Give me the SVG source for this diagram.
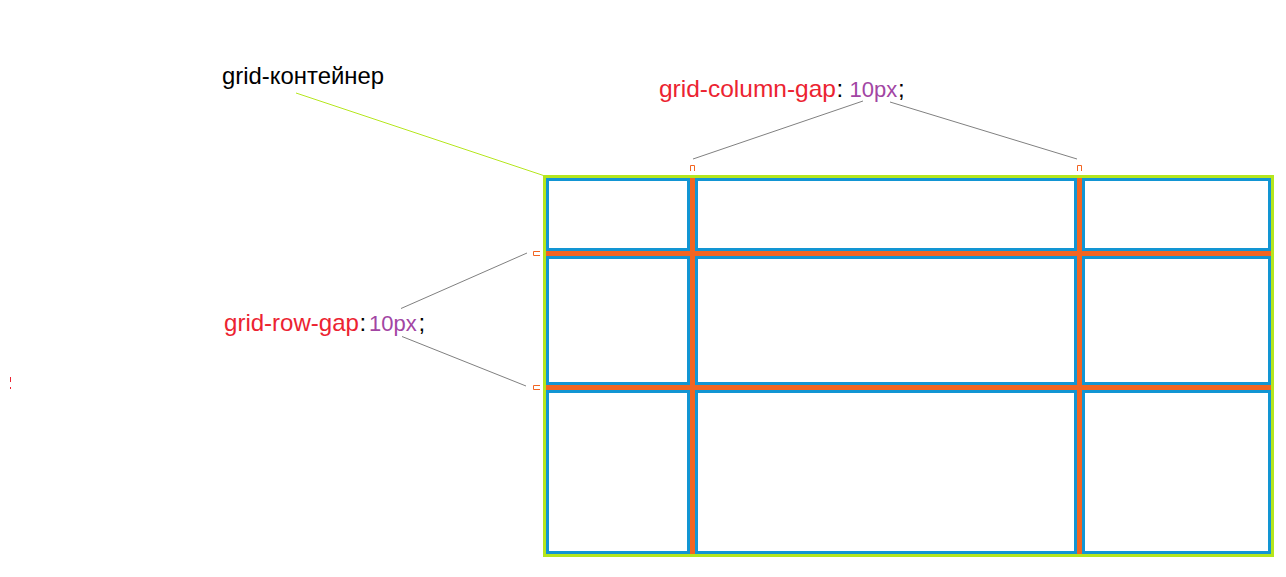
<svg xmlns="http://www.w3.org/2000/svg" width="1286" height="577" viewBox="0 0 1286 577">
<style>
.t{font-family:"Liberation Sans",Arial,sans-serif;font-size:24px}
.red{fill:#ec2331}
.pur{fill:#a245a3;font-size:22px}
.blk{fill:#000}
.cell{fill:#fff;stroke:#1295d3;stroke-width:3}
.lead{stroke:#808080;stroke-width:1;fill:none}
.mark{stroke:#f26522;stroke-width:1;fill:none}
</style>
<rect width="1286" height="577" fill="#fff"/>
<g id="container">
<rect x="544.5" y="176.5" width="728" height="379" fill="#f26522" stroke="#b5e61d" stroke-width="3"/>
</g>
<g id="cells">
<rect id="c11" class="cell" x="547.5" y="179.5" width="141" height="70"/>
<rect id="c12" class="cell" x="696.5" y="179.5" width="379" height="70"/>
<rect id="c13" class="cell" x="1083.5" y="179.5" width="186" height="70"/>
<rect id="c21" class="cell" x="547.5" y="257.5" width="141" height="126"/>
<rect id="c22" class="cell" x="696.5" y="257.5" width="379" height="126"/>
<rect id="c23" class="cell" x="1083.5" y="257.5" width="186" height="126"/>
<rect id="c31" class="cell" x="547.5" y="391.5" width="141" height="161"/>
<rect id="c32" class="cell" x="696.5" y="391.5" width="379" height="161"/>
<rect id="c33" class="cell" x="1083.5" y="391.5" width="186" height="161"/>
</g>
<g id="connectors">
<line x1="296" y1="93" x2="545" y2="176" stroke="#b5e61d" stroke-width="1"/>
<line class="lead" x1="693" y1="159" x2="863" y2="101"/>
<line class="lead" x1="890" y1="102" x2="1077" y2="159"/>
<line class="lead" x1="401" y1="308.5" x2="527" y2="253"/>
<line class="lead" x1="402" y1="336.5" x2="526" y2="386"/>
</g>
<g id="markers">
<path class="mark" d="M690.5 171 V165.5 H694.5 V171"/>
<path class="mark" d="M1077.5 171 V165.5 H1081.5 V171"/>
<path class="mark" d="M540 251.5 H533.5 V255.5 H540"/>
<path class="mark" d="M540 385.5 H533.5 V389.5 H540"/>
<rect x="10" y="377" width="1" height="5" fill="#ec2331"/>
<rect x="10" y="387" width="1" height="2" fill="#ec2331"/>
</g>
<g id="label-container">
<text class="t blk" x="222" y="84" textLength="162" lengthAdjust="spacingAndGlyphs">grid-контейнер</text>
</g>
<g id="label-column-gap">
<text class="t" y="97"><tspan class="red" x="659" textLength="177" lengthAdjust="spacingAndGlyphs">grid-column-gap</tspan><tspan class="blk" x="836.5">:</tspan><tspan class="pur" x="849.5">10px</tspan><tspan class="blk" x="898">;</tspan></text>
</g>
<g id="label-row-gap">
<text class="t" y="331"><tspan class="red" x="224" textLength="135" lengthAdjust="spacingAndGlyphs">grid-row-gap</tspan><tspan class="blk" x="359.5">:</tspan><tspan class="pur" x="369">10px</tspan><tspan class="blk" x="418.5">;</tspan></text>
</g>
</svg>
